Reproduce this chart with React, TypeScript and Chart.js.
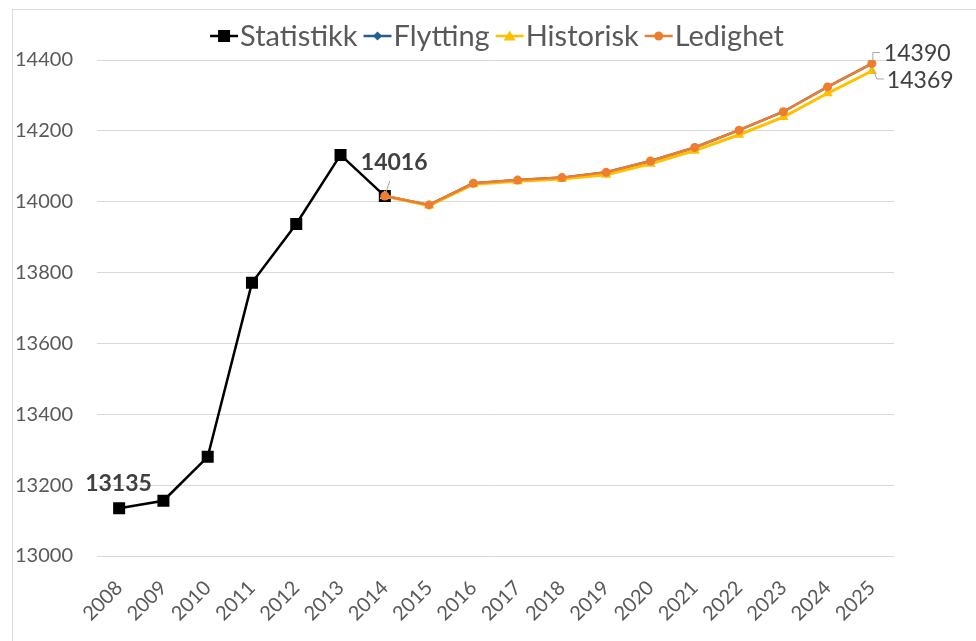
import React, { useEffect, useRef } from "react";
import { Chart, registerables } from "chart.js";

Chart.register(...registerables);

const years = ["2008","2009","2010","2011","2012","2013","2014","2015","2016","2017","2018","2019","2020","2021","2022","2023","2024","2025"];
const statistikk = [13135, 13156, 13280, 13771, 13937, 14132, 14016, null, null, null, null, null, null, null, null, null, null, null];
const flytting = [null, null, null, null, null, null, 14016, 13991, 14052, 14061, 14068, 14083, 14115, 14153, 14202, 14254, 14324, 14390];
const historisk = [null, null, null, null, null, null, 14016, 13989, 14049, 14058, 14064, 14076, 14107, 14144, 14189, 14239, 14306, 14369];
const ledighet = [null, null, null, null, null, null, 14016, 13991, 14052, 14061, 14068, 14083, 14115, 14153, 14202, 14254, 14324, 14390];
const yTicks = [13000, 13200, 13400, 13600, 13800, 14000, 14200, 14400];

const FONT = "Lato, 'Open Sans', sans-serif";
const TEXT = "#595959";

type LegendItem = { label: string; color: string; style: string; size: number };
const legendItems: LegendItem[] = [
  { label: "Statistikk", color: "#000000", style: "rect", size: 6 },
  { label: "Flytting", color: "#255E91", style: "rectRot", size: 3.5 },
  { label: "Historisk", color: "#FFC000", style: "triangle", size: 5.5 },
  { label: "Ledighet", color: "#ED7D31", style: "circle", size: 4.5 },
];

function drawMarker(ctx: CanvasRenderingContext2D, style: string, x: number, y: number, r: number, color: string) {
  ctx.save();
  ctx.fillStyle = color;
  ctx.beginPath();
  if (style === "rect") {
    ctx.rect(x - r, y - r, 2 * r, 2 * r);
  } else if (style === "rectRot") {
    ctx.moveTo(x, y - r * 1.3);
    ctx.lineTo(x + r * 1.3, y);
    ctx.lineTo(x, y + r * 1.3);
    ctx.lineTo(x - r * 1.3, y);
    ctx.closePath();
  } else if (style === "triangle") {
    ctx.moveTo(x, y - r);
    ctx.lineTo(x + r * 1.1, y + r * 0.8);
    ctx.lineTo(x - r * 1.1, y + r * 0.8);
    ctx.closePath();
  } else {
    ctx.arc(x, y, r, 0, Math.PI * 2);
  }
  ctx.fill();
  ctx.restore();
}

const overlayPlugin = {
  id: "overlay",
  afterDraw(chart: any) {
    const ctx = chart.ctx as CanvasRenderingContext2D;
    const xs = chart.scales.x;
    const ys = chart.scales.y;
    ctx.save();
    // outer border
    ctx.strokeStyle = "#d9d9d9";
    ctx.lineWidth = 1;
    ctx.strokeRect(12.5, 9.5, 1200, 1200);

    // legend
    ctx.font = `29px ${FONT}`;
    ctx.textBaseline = "middle";
    const lineLen = 28;
    const gapAfterLine = 2;
    const gapItems = 6;
    let total = 0;
    const widths = legendItems.map((it) => ctx.measureText(it.label).width);
    widths.forEach((w, i) => {
      total += lineLen + gapAfterLine + w + (i < widths.length - 1 ? gapItems : 0);
    });
    let x = 497 - total / 2;
    const ly = 36;
    legendItems.forEach((it, i) => {
      ctx.strokeStyle = it.color;
      ctx.lineWidth = 2.5;
      ctx.beginPath();
      ctx.moveTo(x, ly);
      ctx.lineTo(x + lineLen, ly);
      ctx.stroke();
      drawMarker(ctx, it.style, x + lineLen / 2, ly, it.size, it.color);
      x += lineLen + gapAfterLine;
      ctx.fillStyle = TEXT;
      ctx.textAlign = "left";
      ctx.fillText(it.label, x, ly + 1);
      x += widths[i] + gapItems;
    });

    // data labels
    const px = (i: number) => xs.getPixelForValue(i);
    const py = (v: number) => ys.getPixelForValue(v);
    ctx.fillStyle = "#404040";
    ctx.textBaseline = "middle";
    ctx.textAlign = "left";
    ctx.font = `bold 23px ${FONT}`;
    ctx.fillText(String(statistikk[0]), px(0) - 34, py(statistikk[0] as number) - 25);
    const i14 = 6;
    ctx.fillText(String(statistikk[i14]), px(i14) - 24, py(statistikk[i14] as number) - 33);
    // leader for 14016
    ctx.strokeStyle = "#a6a6a6";
    ctx.lineWidth = 1;
    ctx.beginPath();
    ctx.moveTo(px(i14) + 1, py(statistikk[i14] as number) - 3);
    ctx.lineTo(px(i14) + 5, py(statistikk[i14] as number) - 15);
    ctx.stroke();

    const last = years.length - 1;
    ctx.font = `23px ${FONT}`;
    ctx.fillStyle = "#404040";
    const lx = px(last);
    const ly1 = py(ledighet[last] as number);
    const ly2 = py(historisk[last] as number);
    ctx.fillText(String(ledighet[last]), lx + 12, ly1 - 10);
    ctx.fillText(String(historisk[last]), lx + 15, ly2 + 10);
    ctx.beginPath();
    ctx.moveTo(lx + 1, ly1 - 3);
    ctx.lineTo(lx + 1, ly1 - 11);
    ctx.lineTo(lx + 8, ly1 - 11);
    ctx.moveTo(lx + 1, ly2 - 2);
    ctx.lineTo(lx + 5, ly2 + 8);
    ctx.lineTo(lx + 12, ly2 + 8);
    ctx.stroke();
    ctx.restore();
  },
};

export default function App() {
  const ref = useRef<HTMLCanvasElement>(null);
  useEffect(() => {
    document.body.style.margin = "0";
    const canvas = ref.current!;
    const chart = new Chart(canvas, {
      type: "line",
      data: {
        labels: years,
        datasets: [
          {
            label: "Statistikk",
            data: statistikk,
            borderColor: "#000000",
            backgroundColor: "#000000",
            borderWidth: 2.5,
            pointStyle: "rect",
            pointRadius: 8.5,
            pointBorderWidth: 0,
            order: 4,
          },
          {
            label: "Flytting",
            data: flytting,
            borderColor: "#255E91",
            backgroundColor: "#255E91",
            borderWidth: 2.5,
            pointStyle: "rectRot",
            pointRadius: 4,
            pointBorderWidth: 0,
            order: 3,
          },
          {
            label: "Historisk",
            data: historisk,
            borderColor: "#FFC000",
            backgroundColor: "#FFC000",
            borderWidth: 3,
            pointStyle: "triangle",
            pointRadius: 6,
            pointBorderWidth: 0,
            order: 2,
          },
          {
            label: "Ledighet",
            data: ledighet,
            borderColor: "#ED7D31",
            backgroundColor: "#ED7D31",
            borderWidth: 2.5,
            pointStyle: "circle",
            pointRadius: 4.5,
            pointBorderWidth: 0,
            order: 1,
          },
        ],
      },
      options: {
        animation: false,
        responsive: false,
        maintainAspectRatio: false,
        layout: { padding: { top: 60, right: 82, left: 0, bottom: 0 } },
        plugins: {
          legend: { display: false },
          tooltip: { enabled: false },
          title: { display: false },
        },
        scales: {
          x: {
            offset: true,
            grid: { display: false, drawTicks: false },
            border: { display: false },
            ticks: {
              color: TEXT,
              font: { family: FONT, size: 20 },
              maxRotation: 45,
              minRotation: 45,
              padding: 20,
              autoSkip: false,
            },
            afterFit: (s: any) => {
              s.height = 85;
            },
          },
          y: {
            min: yTicks[0],
            max: yTicks[yTicks.length - 1],
            grid: { color: "#d9d9d9", lineWidth: 1, drawTicks: false },
            border: { display: false },
            afterBuildTicks: (s: any) => {
              s.ticks = yTicks.map((v) => ({ value: v }));
            },
            ticks: {
              color: TEXT,
              font: { family: FONT, size: 20 },
              padding: 24,
              callback: (v: any) => String(v),
            },
            afterFit: (s: any) => {
              s.width = 97;
            },
          },
        },
      },
      plugins: [overlayPlugin],
    });
    return () => chart.destroy();
  }, []);
  return (
    <div style={{ position: "relative", width: 976, height: 641, background: "#fff" }}>
      <canvas ref={ref} width={976} height={641} style={{ display: "block" }} />
    </div>
  );
}
